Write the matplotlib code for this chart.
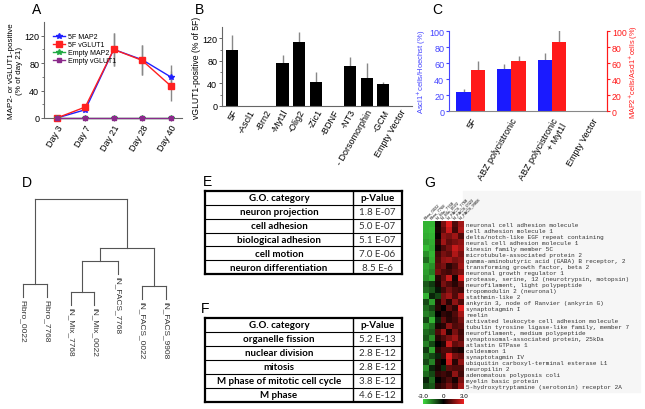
import numpy as np
import matplotlib
matplotlib.use('Agg')
from matplotlib import pyplot as plt
from matplotlib.colors import LinearSegmentedColormap
from matplotlib.patches import Rectangle

plt.rcParams['font.family'] = ['Liberation Sans', 'DejaVu Sans']

W, H = 645, 410

# panel A
days = ['Day 3', 'Day 7', 'Day 21', 'Day 28', 'Day 40']
map2_5f = [0, 12, 100, 85, 60]
map2_5f_err = [0, 2, 24, 22, 17]
vglut1_5f = [0, 16, 100, 84, 47]
vglut1_5f_err = [0, 3, 24, 22, 22]
map2_empty = [0, 0, 0, 0, 0]
vglut1_empty = [0, 0, 0, 0, 0]

# panel B
b_labels = ['5F', '-Ascl1', '-Brn2', '-Myt1l', '-Olig2', '-Zic1', '-BDNF',
            '-NT3', '- Dorsomorphin', '-GCM', 'Empty Vector']
b_values = [100, 0, 0, 77, 114, 43, 0, 71, 49, 39, 0]
b_err = [25, 0, 0, 14, 17, 18, 0, 15, 27, 3, 0]

# panel C
c_labels = ['5F', 'ABZ polycistronic', 'ABZ polycistronic\n+ Myt1l', 'Empty Vector']
ascl1_hoechst = [24, 53, 64, 0]
ascl1_err = [4, 6, 9, 0]
map2_ascl1 = [51, 63, 86, 0]
map2_ascl1_err = [11, 6, 15, 0]

# panel D
leaves = ['Fibro_0022', 'Fibro_7768', 'iN_Mix_7768', 'iN_Mix_0022',
          'iN_FACS_7768', 'iN_FACS_0022', 'iN_FACS_9908']
merges = [(2, 3, 0.07), (5, 6, 0.13), (0, 1, 0.15), (7, 4, 0.38),
          (10, 8, 0.51), (9, 11, 1.0)]
hang = 0.13

# panels E and F
e_terms = ['neuron projection', 'cell adhesion', 'biological adhesion',
           'cell motion', 'neuron differentiation']
e_pvals = ['1.8 E-07', '5.0 E-07', '5.1 E-07', '7.0 E-06', '8.5 E-6']
f_terms = ['organelle fission', 'nuclear division', 'mitosis',
           'M phase of mitotic cell cycle', 'M phase']
f_pvals = ['5.2 E-13', '2.8 E-12', '2.8 E-12', '3.8 E-12', '4.6 E-12']

# panel G
samples = ['Fibro_0022', 'Fibro_7768', 'iN_Mix_7768', 'iN_Mix_0022',
           'iN_FACS_7768', 'iN_FACS_0022', 'iN_FACS_9908']
genes = ['neuronal cell adhesion molecule', 'cell adhesion molecule 1',
         'delta/notch-like EGF repeat containing', 'neural cell adhesion molecule 1',
         'kinesin family member 5C', 'microtubule-associated protein 2',
         'gamma-aminobutyric acid (GABA) B receptor, 2', 'transforming growth factor, beta 2',
         'neuronal growth regulator 1', 'protease, serine, 12 (neurotrypsin, motopsin)',
         'neurofilament, light polypeptide', 'tropomodulin 2 (neuronal)',
         'stathmin-like 2', 'ankyrin 3, node of Ranvier (ankyrin G)',
         'synaptotagmin I', 'reelin', 'activated leukocyte cell adhesion molecule',
         'tubulin tyrosine ligase-like family, member 7', 'neurofilament, medium polypeptide',
         'synaptosomal-associated protein, 25kDa', 'atlastin GTPase 1', 'caldesmon 1',
         'synaptotagmin IV', 'ubiquitin carboxyl-terminal esterase L1', 'neuropilin 2',
         'adenomatous polyposis coli', 'myelin basic protein',
         '5-hydroxytryptamine (serotonin) receptor 2A']
expr = np.array([
    [-2.5, -2.5, 0.2, 1.5, 2.8, 1.0, 2.0],
    [-2.5, -2.6, 0.3, 1.2, 2.5, 0.8, 2.2],
    [-2.4, -2.5, 0.1, 1.8, 1.5, 2.0, 1.0],
    [-2.2, -2.4, 0.5, 2.0, 1.2, 1.5, 1.8],
    [-2.6, -2.3, 0.2, 1.0, 1.5, 2.5, 2.0],
    [-2.0, -2.5, 0.8, 1.5, 1.2, 2.2, 1.5],
    [-1.5, -2.4, 1.0, 1.8, 2.0, 1.5, 1.8],
    [-2.3, -2.0, 1.2, 1.5, 0.5, 1.0, 2.0],
    [-2.2, -1.8, 1.5, 1.0, 0.8, 1.2, 1.5],
    [-2.0, -2.4, 0.5, 1.2, 2.5, 0.3, 2.8],
    [-1.2, -0.8, 0.3, 1.5, 1.0, 0.5, 1.2],
    [-1.5, -1.2, -0.3, 0.8, 1.5, 1.0, 0.8],
    [-2.5, -0.5, -1.0, 1.5, 2.0, 1.0, 2.2],
    [-1.0, -2.2, 0.4, 1.5, 0.5, 1.8, 1.0],
    [-1.5, -1.0, 0.5, 0.0, 1.2, 0.6, 2.8],
    [-1.8, -1.5, 0.0, 0.6, 0.4, 1.0, 2.0],
    [-1.0, -2.5, -0.5, 1.2, 0.5, 0.8, 1.5],
    [-2.0, -1.5, 0.3, 0.5, 1.8, 1.0, 1.2],
    [-1.5, -1.2, 1.0, 2.0, 0.3, 1.5, 0.8],
    [-1.2, -2.0, 0.5, 1.0, 1.5, 2.0, 1.0],
    [-1.8, -1.0, 0.0, 0.4, 2.5, 1.2, 1.5],
    [-0.8, -2.3, 0.5, 1.0, 1.0, 0.5, 0.3],
    [-1.5, -1.0, -0.5, 0.8, 2.8, 1.5, 1.2],
    [-1.0, -1.8, 0.4, 0.0, 2.5, 0.5, 1.8],
    [-2.0, -0.5, 0.3, -0.6, 1.2, 1.0, 1.0],
    [-1.5, -1.0, 0.6, 0.8, 0.5, 1.8, 0.8],
    [-0.5, -1.5, 0.0, 0.5, 1.0, 0.3, 1.5],
    [-1.0, -1.2, 0.5, 0.8, 1.5, 0.8, 2.0],
])

fig = plt.figure(figsize=(W / 100, H / 100), dpi=100)


def box(l, t, r, b):
    # axes from pixel edges
    return fig.add_axes([l / W, 1 - b / H, (r - l) / W, (b - t) / H])


def style(ax, color='#666666'):
    for s in ['top', 'right']:
        ax.spines[s].set_visible(False)
    for s in ['left', 'bottom']:
        ax.spines[s].set_color(color)
        ax.spines[s].set_linewidth(0.8)
    ax.tick_params(length=2.5, width=0.7, color=color, labelsize=6.5, pad=1)


def panel_label(x, y, s):
    fig.text(x / W, 1 - y / H, s, fontsize=10, ha='center', va='center')


# ---- A ----
axA = box(44, 23, 182, 119)
x = np.arange(len(days))
axA.errorbar(x, map2_5f, yerr=map2_5f_err, fmt='none', ecolor='#888888', elinewidth=1, zorder=1)
axA.errorbar(x, vglut1_5f, yerr=vglut1_5f_err, fmt='none', ecolor='#888888', elinewidth=1, zorder=1)
axA.plot(x, map2_5f, color='#2020ff', marker='*', ms=4, lw=1, label='5F MAP2', clip_on=False, zorder=3)
axA.plot(x, vglut1_5f, color='#ff2020', marker='s', ms=4, lw=1, label='5F vGLUT1', clip_on=False, zorder=3)
axA.plot(x, map2_empty, color='#22aa44', marker='*', ms=4, lw=1, label='Empty MAP2', clip_on=False, zorder=4)
axA.plot(x, vglut1_empty, color='#8b2a8b', marker='s', ms=3.5, lw=1, label='Empty vGLUT1', clip_on=False, zorder=5)
axA.set_xlim(-0.45, 4.4)
axA.set_ylim(0, 140)
axA.set_yticks([0, 40, 80, 120])
axA.set_yticks([20, 60, 100], minor=True)
axA.set_xticks(x)
axA.set_xticklabels(days, rotation=60, ha='right', rotation_mode='anchor')
style(axA)
axA.tick_params(which='minor', length=1.5, color='#666666')
axA.set_ylabel('MAP2- or vGLUT1-positive\n(% of day 21)', fontsize=5.8, labelpad=1, linespacing=1.1)
axA.legend(loc='upper left', bbox_to_anchor=(0.04, 0.92), fontsize=5, frameon=False,
           handlelength=1.8, labelspacing=0.15, borderpad=0, handletextpad=0.3)

# ---- B ----
axB = box(222, 28, 412, 107)
xb = np.arange(len(b_labels))
axB.bar(xb, b_values, width=0.72, color='black', zorder=2)
axB.errorbar(xb, b_values, yerr=[np.zeros(len(b_err)), b_err], fmt='none',
             ecolor='#888888', elinewidth=1, zorder=1)
axB.set_xlim(-0.6, 10.7)
axB.set_ylim(0, 140)
axB.set_yticks([0, 40, 80, 120])
axB.set_yticks([20, 60, 100], minor=True)
axB.set_xticks(xb)
axB.set_xticklabels(b_labels, rotation=60, ha='right', rotation_mode='anchor')
style(axB)
axB.tick_params(axis='x', length=0, labelsize=6.5)
axB.tick_params(which='minor', length=1.5, color='#666666')
axB.set_ylabel('vGLUT1-positive (% of 5F)', fontsize=6.2, labelpad=1)

# ---- C ----
axC = box(449, 32, 607, 112)
xc = np.arange(len(c_labels))
bw = 0.355
axC.bar(xc - bw / 2, ascl1_hoechst, width=bw, color='#1a1aff', zorder=2)
axC.errorbar(xc - bw / 2, ascl1_hoechst, yerr=[np.zeros(4), ascl1_err], fmt='none',
             ecolor='#888888', elinewidth=1, zorder=1)
axC.bar(xc + bw / 2, map2_ascl1, width=bw, color='#ff1a1a', zorder=2)
axC.errorbar(xc + bw / 2, map2_ascl1, yerr=[np.zeros(4), map2_ascl1_err], fmt='none',
             ecolor='#888888', elinewidth=1, zorder=1)
axC.set_xlim(-0.54, 3.36)
axC.set_ylim(0, 100)
axC.set_yticks(range(0, 101, 20))
axC.set_xticks(xc)
axC.set_xticklabels(c_labels, rotation=60, ha='right', rotation_mode='anchor', fontsize=6.5)
axC.tick_params(axis='x', length=0)
axC.spines['top'].set_visible(False)
axC.spines['right'].set_color('#ff1a1a')
axC.spines['left'].set_color('#4444ff')
axC.spines['bottom'].set_color('#888888')
axC.tick_params(axis='y', colors='#4444ff', length=2.5, labelsize=6.5, pad=1)
axC.set_ylabel(r'Ascl1$^{+}$cells/Hoechst (%)', color='#4444ff', fontsize=5.5, labelpad=1)
axC2 = axC.twinx()
axC2.set_ylim(0, 100)
axC2.set_yticks(range(0, 101, 20))
axC2.spines['top'].set_visible(False)
axC2.spines['left'].set_visible(False)
axC2.spines['bottom'].set_visible(False)
axC2.spines['right'].set_color('#ff1a1a')
axC2.tick_params(axis='y', colors='#ff1a1a', length=2.5, labelsize=6.3, pad=1)
axC2.set_ylabel(r'MAP2$^{+}$cells/Ascl1$^{+}$cells (%)', color='#ff1a1a', fontsize=5.3, labelpad=1)

# ---- D ----
axD = box(15, 190, 180, 340)
axD.set_xlim(-0.336, 6.6)
axD.set_ylim(-0.4, 1.1)
axD.axis('off')
pos = {i: float(i) for i in range(len(leaves))}
hgt = {i: None for i in range(len(leaves))}
lc = '#555555'
leaf_bottom = {}
for k, (a, b, h) in enumerate(merges):
    node = len(leaves) + k
    for c in (a, b):
        if hgt[c] is None:
            bottom = h - hang
            leaf_bottom[c] = bottom
        else:
            bottom = hgt[c]
        axD.plot([pos[c], pos[c]], [bottom, h], color=lc, lw=0.8)
    axD.plot([pos[a], pos[b]], [h, h], color=lc, lw=0.8)
    pos[node] = (pos[a] + pos[b]) / 2
    hgt[node] = h
for i, name in enumerate(leaves):
    axD.text(i, leaf_bottom[i] - 0.02, name, rotation=-90, ha='center', va='top',
             fontsize=6, color='#333333')


# ---- E, F ----
def go_table(ax, terms, pvals):
    n = len(terms) + 1
    ax.set_xlim(0, 1)
    ax.set_ylim(n, 0)
    ax.set_xticks([])
    ax.set_yticks([])
    for s in ax.spines.values():
        s.set_linewidth(1.6)
    split = 148 / 197
    ax.axvline(split, color='black', lw=1.0)
    for r in range(1, n):
        ax.axhline(r, color='black', lw=0.8)
    kw = dict(ha='center', va='center', fontsize=7, family='Lato')
    ax.text(split / 2, 0.5, 'G.O. category', fontweight='bold', **kw)
    ax.text((1 + split) / 2, 0.5, 'p-Value', fontweight='bold', **kw)
    for r, (t, p) in enumerate(zip(terms, pvals), start=1):
        ax.text(split / 2, r + 0.5, t, fontweight='bold', **kw)
        ax.text((1 + split) / 2, r + 0.5, p, color='#333333', **kw)


go_table(box(205, 192, 402, 275), e_terms, e_pvals)
go_table(box(205, 319, 402, 403), f_terms, f_pvals)

# ---- G ----
fig.patches.append(Rectangle((463 / W, 1 - 393 / H), 177 / W, 201 / H,
                             transform=fig.transFigure, color='#f6f6f6', zorder=-1))
cmap = LinearSegmentedColormap.from_list('gbr', ['#3ed83e', '#000000', '#ee2020'])
axG = box(423, 222, 464, 390)
im = axG.imshow(expr, cmap=cmap, vmin=-3, vmax=3, aspect='auto', interpolation='nearest')
axG.set_yticks(np.arange(len(genes)))
axG.set_yticklabels(genes, family='Liberation Mono', fontsize=4.3, color='#333333')
axG.yaxis.tick_right()
axG.set_xticks(np.arange(len(samples)))
axG.set_xticklabels(samples, rotation=45, ha='left', rotation_mode='anchor', fontsize=3)
axG.xaxis.tick_top()
axG.tick_params(length=0, pad=1.5)
for s in axG.spines.values():
    s.set_visible(False)

cax = box(423, 400, 464, 405)
cb = fig.colorbar(im, cax=cax, orientation='horizontal')
cb.outline.set_visible(False)
cax.xaxis.set_ticks_position('top')
cb.set_ticks([-3, 0, 3])
cb.set_ticklabels(['-3.0', '0', '3.0'])
cax.tick_params(length=0, labelsize=4.5, pad=0.5)

panel_label(37, 10, 'A')
panel_label(199, 10, 'B')
panel_label(437, 10, 'C')
panel_label(27, 183, 'D')
panel_label(207, 182, 'E')
panel_label(205, 309, 'F')
panel_label(430, 183, 'G')

fig.savefig('out.png', dpi=100)
